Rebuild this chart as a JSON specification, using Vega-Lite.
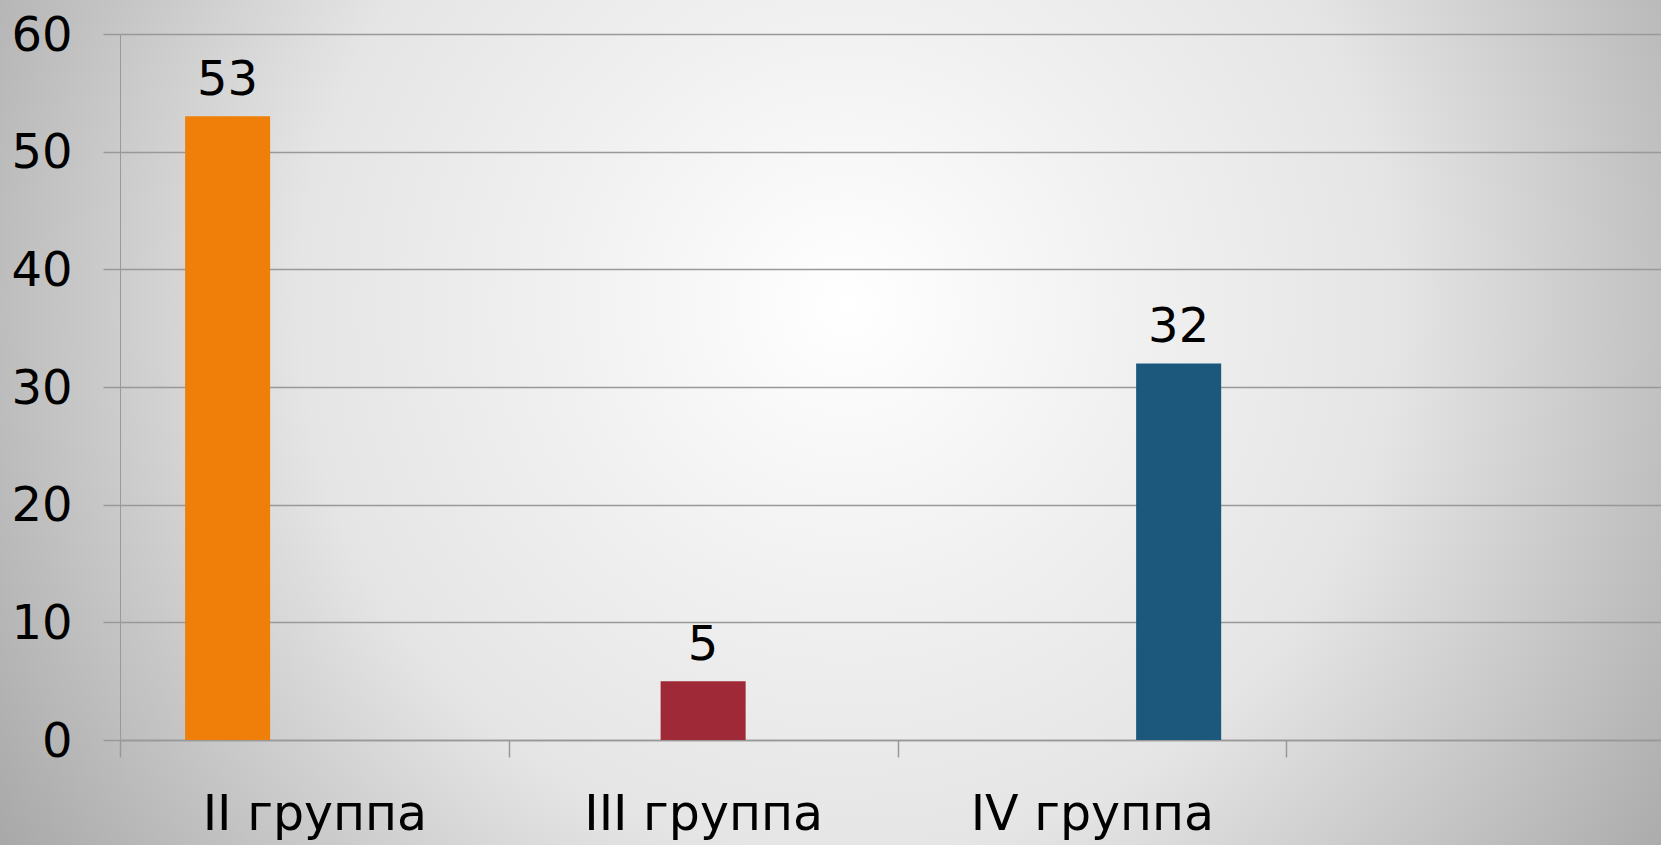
{
  "$schema": "https://vega.github.io/schema/vega-lite/v6.json",
  "width": 1661,
  "height": 845,
  "autosize": {"type": "none"},
  "padding": 0,
  "background": "#bdbdbd",
  "view": {
    "stroke": null,
    "fill": {
      "gradient": "radial",
      "x1": 0.51, "y1": 0.43, "x2": 0.51, "y2": 0.43,
      "r1": 0, "r2": 0.6,
      "stops": [
        {"offset": 0, "color": "#ffffff"},
        {"offset": 0.3, "color": "#f0f0f0"},
        {"offset": 0.55, "color": "#e5e5e5"},
        {"offset": 0.85, "color": "#bdbdbd"},
        {"offset": 1, "color": "#a9a9a9"}
      ]
    }
  },
  "data": {
    "values": [
      {"group": "II группа", "series": "s1", "value": 53},
      {"group": "III группа", "series": "s2", "value": 5},
      {"group": "IV группа", "series": "s3", "value": 32}
    ]
  },
  "encoding": {
    "x": {
      "field": "group",
      "type": "nominal",
      "sort": null,
      "scale": {
        "domain": ["II группа", "III группа", "IV группа", " "],
        "range": [120, 1675],
        "paddingInner": 0,
        "paddingOuter": 0
      },
      "axis": {
        "orient": "bottom",
        "offset": -105,
        "title": null,
        "grid": false,
        "labelAngle": 0,
        "labelFont": "DejaVu Sans",
        "labelFontSize": 49,
        "labelColor": "#000000",
        "labelPadding": 33,
        "labelLimit": 0,
        "labelBound": false,
        "labelOverlap": false,
        "domainColor": "#999999",
        "domainWidth": 1.5,
        "ticks": true,
        "tickBand": "extent",
        "tickSize": 17,
        "tickColor": "#999999",
        "tickWidth": 1.5
      }
    },
    "xOffset": {
      "field": "series",
      "type": "nominal",
      "scale": {"domain": ["s1", "s2", "s3"], "paddingInner": 0.02, "paddingOuter": 0.75}
    },
    "y": {
      "field": "value",
      "type": "quantitative",
      "scale": {"domain": [0, 60], "range": [740, 34], "nice": false},
      "axis": {
        "orient": "left",
        "offset": -120,
        "title": null,
        "values": [0, 10, 20, 30, 40, 50, 60],
        "labelFont": "DejaVu Sans",
        "labelFontSize": 48,
        "labelColor": "#000000",
        "labelPadding": 31,
        "labelOffset": 2,
        "labelBound": false,
        "labelFlush": false,
        "domainColor": "#999999",
        "domainWidth": 1,
        "tickSize": 17,
        "tickColor": "#999999",
        "tickWidth": 1.5,
        "grid": true,
        "gridColor": "#999999",
        "gridWidth": 1.5
      }
    }
  },
  "layer": [
    {
      "mark": {"type": "bar"},
      "encoding": {
        "color": {
          "field": "series",
          "type": "nominal",
          "scale": {"domain": ["s1", "s2", "s3"], "range": ["#F07F09", "#9F2936", "#1B587C"]},
          "legend": null
        }
      }
    },
    {
      "mark": {"type": "text", "baseline": "alphabetic", "dy": -21, "font": "DejaVu Sans", "fontSize": 48, "color": "#000000"},
      "encoding": {
        "text": {"field": "value", "type": "quantitative"}
      }
    }
  ]
}
